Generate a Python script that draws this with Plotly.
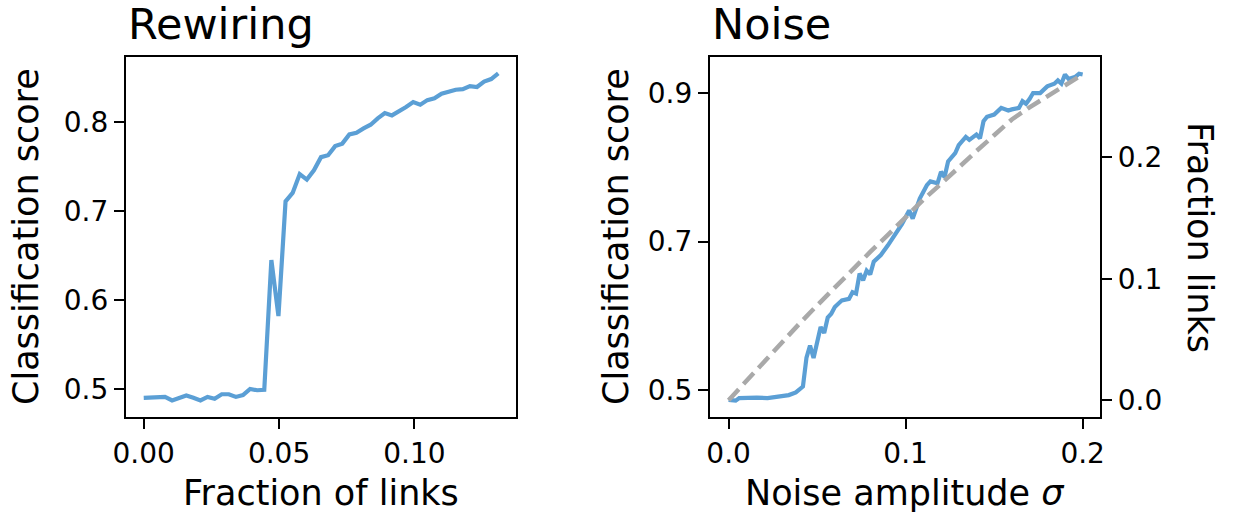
import plotly.graph_objects as go

W, H = 1233, 514

# --- Rewiring panel: classification score vs. fraction of rewired links ---
rewire_step = 0.00262
rewire_x = [round(i * rewire_step, 5) for i in range(51)]
rewire_score = [
    0.490, 0.490, 0.491, 0.491, 0.487, 0.490, 0.4925, 0.490, 0.487, 0.491,
    0.489, 0.494, 0.494, 0.491, 0.493, 0.500, 0.4985, 0.499, 0.645, 0.582,
    0.711, 0.7206, 0.7417, 0.7356, 0.746, 0.7608, 0.763, 0.7732, 0.776, 0.7864,
    0.7883, 0.7931, 0.7973, 0.8044, 0.8104, 0.8078, 0.8123, 0.8172, 0.8228, 0.8198,
    0.825, 0.827, 0.8322, 0.8348, 0.8367, 0.8374, 0.8408, 0.8397, 0.8458, 0.8487,
    0.8551,
]

# --- Noise panel: classification score vs. noise amplitude sigma ---
noise_x = [
    0.000, 0.004, 0.006, 0.010, 0.016, 0.022, 0.028, 0.034, 0.038, 0.042,
    0.044, 0.046, 0.048, 0.052, 0.054, 0.056, 0.058, 0.060, 0.064, 0.068,
    0.070, 0.072, 0.074, 0.076, 0.078, 0.080, 0.082, 0.086, 0.090, 0.094,
    0.096, 0.098, 0.102, 0.104, 0.108, 0.112, 0.114, 0.118, 0.120, 0.122,
    0.124, 0.128, 0.130, 0.134, 0.136, 0.140, 0.142, 0.144, 0.146, 0.150,
    0.154, 0.158, 0.160, 0.164, 0.166, 0.168, 0.170, 0.172, 0.176, 0.180,
    0.184, 0.186, 0.188, 0.190, 0.192, 0.196, 0.198, 0.200,
]
noise_score = [
    0.487, 0.486, 0.4895, 0.490, 0.490, 0.4895, 0.491, 0.4935, 0.497, 0.505,
    0.544, 0.560, 0.5435, 0.585, 0.577, 0.598, 0.603, 0.612, 0.621, 0.623,
    0.632, 0.630, 0.657, 0.648, 0.661, 0.656, 0.673, 0.682, 0.695, 0.709,
    0.715, 0.724, 0.742, 0.731, 0.758, 0.776, 0.781, 0.7785, 0.794, 0.787,
    0.808, 0.819, 0.830, 0.841, 0.837, 0.844, 0.839, 0.862, 0.868, 0.871,
    0.880, 0.8765, 0.878, 0.880, 0.889, 0.8855, 0.892, 0.900, 0.900, 0.909,
    0.9126, 0.917, 0.9126, 0.925, 0.919, 0.922, 0.926, 0.925,
]

# Fraction of links affected by the noise (right-hand axis)
frac_x = [
    0.00, 0.01, 0.02, 0.03, 0.04, 0.05, 0.06, 0.07, 0.08, 0.09, 0.10,
    0.11, 0.12, 0.13, 0.14, 0.15, 0.16, 0.17, 0.18, 0.19, 0.20,
]
frac_links = [
    0.000, 0.016, 0.032, 0.048, 0.063, 0.078, 0.093, 0.107, 0.122, 0.136, 0.151,
    0.165, 0.178, 0.192, 0.205, 0.218, 0.231, 0.241, 0.250, 0.258, 0.268,
]

rewire_ticks = [0.00, 0.05, 0.10]
rewire_ticktext = ["0.00", "0.05", "0.10"]
rewire_yticks = [0.5, 0.6, 0.7, 0.8]
noise_ticks = [0.0, 0.1, 0.2]
noise_yticks = [0.5, 0.7, 0.9]
frac_ticks = [0.0, 0.1, 0.2]

BLUE = "#5b9fd5"
GRAY = "#a9a9a9"
FONT = "DejaVu Sans"
TICK_SIZE = 28
LABEL_SIZE = 35
TITLE_SIZE = 43

# Panel geometry in pixels
L1, R1 = 126, 516
L2, R2 = 710, 1100
TOP, BOT = 57, 417


def px(x):
    return x / W


def py(y):
    return 1 - y / H


axis_common = dict(
    showline=True,
    linecolor="black",
    linewidth=2.2,
    ticks="outside",
    ticklen=10,
    tickwidth=2.2,
    tickcolor="black",
    showgrid=False,
    zeroline=False,
    automargin=False,
    tickfont=dict(family=FONT, size=TICK_SIZE, color="black"),
)

fig = go.Figure()

fig.add_trace(go.Scatter(
    x=rewire_x, y=rewire_score, mode="lines",
    line=dict(color=BLUE, width=4.2),
    xaxis="x", yaxis="y", showlegend=False,
))
fig.add_trace(go.Scatter(
    x=frac_x, y=frac_links, mode="lines",
    line=dict(color=GRAY, width=4.5, dash="15px,7px"),
    xaxis="x2", yaxis="y3", showlegend=False,
))
fig.add_trace(go.Scatter(
    x=noise_x, y=noise_score, mode="lines",
    line=dict(color=BLUE, width=4.2),
    xaxis="x2", yaxis="y2", showlegend=False,
))

fig.update_layout(
    width=W, height=H,
    margin=dict(l=0, r=0, t=0, b=0, autoexpand=False),
    paper_bgcolor="white",
    plot_bgcolor="rgba(0,0,0,0)",
    font=dict(family=FONT, color="black"),
    xaxis=dict(
        axis_common, domain=[px(L1), px(R1)], anchor="y",
        range=[-0.00655, 0.13755], mirror=True,
        tickvals=rewire_ticks, ticktext=rewire_ticktext,
    ),
    yaxis=dict(
        axis_common, domain=[py(BOT), py(TOP)], anchor="x",
        range=[0.4684, 0.8735], mirror=True,
        tickvals=rewire_yticks, ticktext=["0.5", "0.6", "0.7", "0.8"],
    ),
    xaxis2=dict(
        axis_common, domain=[px(L2), px(R2)], anchor="y2",
        range=[-0.0105, 0.2098], mirror=True,
        tickvals=noise_ticks, ticktext=["0.0", "0.1", "0.2"],
    ),
    yaxis2=dict(
        axis_common, domain=[py(BOT), py(TOP)], anchor="x2",
        range=[0.464, 0.9485], mirror=True,
        tickvals=noise_yticks, ticktext=["0.5", "0.7", "0.9"],
    ),
    yaxis3=dict(
        axis_common, overlaying="y2", anchor="x2", side="right",
        range=[-0.0138, 0.2824],
        tickvals=frac_ticks, ticktext=["0.0", "0.1", "0.2"],
    ),
)

annotations = [
    dict(text="Rewiring", x=px(L1), y=py(24), xanchor="left", yanchor="middle",
         font=dict(size=TITLE_SIZE)),
    dict(text="Noise", x=px(L2), y=py(24), xanchor="left", yanchor="middle",
         font=dict(size=TITLE_SIZE)),
    dict(text="Fraction of links", x=px((L1 + R1) / 2), y=py(493),
         xanchor="center", yanchor="middle", font=dict(size=LABEL_SIZE)),
    dict(text="Noise amplitude <i>σ</i>", x=px((L2 + R2) / 2), y=py(493),
         xanchor="center", yanchor="middle", font=dict(size=LABEL_SIZE)),
    dict(text="Classification score", x=px(26), y=py((TOP + BOT) / 2),
         xanchor="center", yanchor="middle", textangle=-90,
         font=dict(size=LABEL_SIZE)),
    dict(text="Classification score", x=px(616), y=py((TOP + BOT) / 2),
         xanchor="center", yanchor="middle", textangle=-90,
         font=dict(size=LABEL_SIZE)),
    dict(text="Fraction links", x=px(1200), y=py((TOP + BOT) / 2),
         xanchor="center", yanchor="middle", textangle=90,
         font=dict(size=LABEL_SIZE)),
]
for a in annotations:
    a.update(xref="paper", yref="paper", showarrow=False)
    a["font"] = dict(family=FONT, color="black", size=a["font"]["size"])
fig.update_layout(annotations=annotations)

fig.write_html("out.html")
